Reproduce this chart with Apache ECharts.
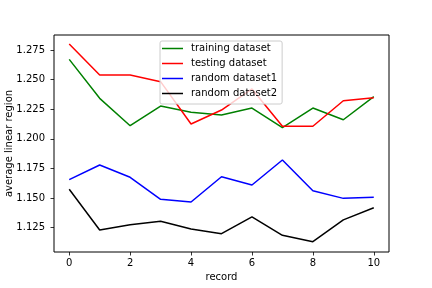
<!DOCTYPE html>
<html><head><meta charset="utf-8">
<script src="https://cdn.jsdelivr.net/npm/echarts@6/dist/echarts.min.js"></script>
<style>html,body{margin:0;padding:0;background:#fff}#c{width:432px;height:288px}</style>
</head><body><div id="c"></div>
<script>
const records = [0,1,2,3,4,5,6,7,8,9,10];
const training = [1.2671,1.2342,1.2111,1.2277,1.2224,1.2201,1.2260,1.2094,1.2260,1.2161,1.2356];
const testing = [1.2801,1.2539,1.2539,1.2483,1.2125,1.2243,1.2421,1.2106,1.2106,1.2322,1.2347];
const random1 = [1.1655,1.1779,1.1675,1.1489,1.1466,1.1680,1.1610,1.1821,1.1562,1.1497,1.1506];
const random2 = [1.1574,1.1230,1.1275,1.1303,1.1238,1.1199,1.1340,1.1185,1.1131,1.1315,1.1418];
const xTicks = [0,2,4,6,8,10];
const yTicks = [1.125,1.150,1.175,1.200,1.225,1.250,1.275];
const seriesNames = ['training dataset','testing dataset','random dataset1','random dataset2'];
const seriesColors = ['#008000','#ff0000','#0000ff','#000000'];
const seriesData = [training, testing, random1, random2];

const font = 'DejaVu Sans';
const chart = echarts.init(document.getElementById('c'), null, {renderer:'canvas'});
chart.setOption({
  animation:false,
  textStyle:{fontFamily:font},
  grid:{left:54,right:43,top:35,bottom:36,containLabel:false,outerBoundsMode:'none',show:true,borderColor:'#000',borderWidth:1,backgroundColor:'transparent'},
  legend:{
    orient:'vertical', left:160, top:41,
    icon:'rect', itemWidth:21, itemHeight:1.5, itemGap:0,
    padding:[0,5,3,2],
    backgroundColor:'rgba(255,255,255,0.8)', borderColor:'#ccc', borderWidth:1, borderRadius:2,
    textStyle:{fontFamily:font,fontSize:10,color:'#000',lineHeight:15,padding:[0,0,0,3]},
    data:seriesNames
  },
  xAxis:{
    type:'value', min:-0.5, max:10.5,
    name:'record', nameLocation:'middle', nameGap:20, nameMoveOverlap:false,
    nameTextStyle:{fontFamily:font,fontSize:10,color:'#000'},
    axisLine:{show:false,onZero:false},
    axisTick:{show:true,length:3.5,lineStyle:{color:'#000',width:0.8},customValues:xTicks},
    axisLabel:{fontFamily:font,fontSize:10,color:'#000',margin:6,customValues:xTicks,formatter:v=>String(v)},
    splitLine:{show:false}
  },
  yAxis:{
    type:'value', min:1.1044, max:1.2877,
    name:'average linear region', nameLocation:'middle', nameGap:40, nameRotate:90, nameMoveOverlap:false,
    nameTextStyle:{fontFamily:font,fontSize:10,color:'#000'},
    axisLine:{show:false,onZero:false},
    axisTick:{show:true,length:3.5,lineStyle:{color:'#000',width:0.8},customValues:yTicks},
    axisLabel:{fontFamily:font,fontSize:10,color:'#000',margin:9,customValues:yTicks,formatter:v=>v.toFixed(3)},
    splitLine:{show:false}
  },
  series: seriesNames.map((n,i)=>({
    name:n, type:'line', symbol:'none', showSymbol:false,
    color:seriesColors[i],
    lineStyle:{color:seriesColors[i],width:1.5},
    data: records.map((r,j)=>[r, seriesData[i][j]])
  }))
});
</script></body></html>
